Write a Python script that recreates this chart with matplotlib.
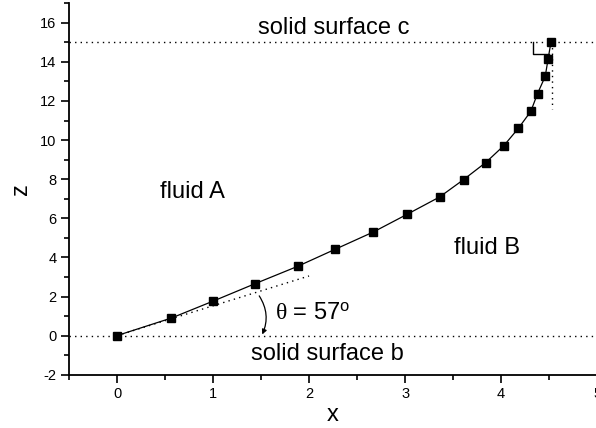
import matplotlib
matplotlib.use("Agg")
import matplotlib.pyplot as plt
from matplotlib.ticker import MultipleLocator
from matplotlib.patches import FancyArrowPatch

plt.rcParams['font.family'] = ['Liberation Sans', 'DejaVu Sans']
plt.rcParams['mathtext.fontset'] = 'custom'
plt.rcParams['mathtext.rm'] = 'Liberation Sans'
plt.rcParams['mathtext.it'] = 'Liberation Serif'
plt.rcParams['axes.unicode_minus'] = False

# measured interface points
x_pts = [0.0, 0.567, 1.004, 1.44, 1.88, 2.27, 2.67, 3.02, 3.36, 3.61,
         3.84, 4.03, 4.18, 4.31, 4.38, 4.46, 4.49, 4.52]
z_pts = [0.0, 0.90, 1.77, 2.66, 3.54, 4.41, 5.30, 6.20, 7.09, 7.98,
         8.85, 9.72, 10.60, 11.47, 12.38, 13.26, 14.15, 15.02]

# guide lines
surface_b = 0.0
surface_c = 15.0
tangent_x = [0.0, 2.0]
tangent_z = [0.0, 3.05]
wall_x = [4.53, 4.53]
wall_z = [15.0, 11.6]
corner_x = [4.33, 4.33, 4.50]
corner_z = [15.0, 14.42, 14.42]

fig = plt.figure(figsize=(5.96, 4.28), dpi=100)
ax = fig.add_axes([0.1158, 0.1245, 0.886, 0.868])

dot = dict(color='black', lw=1.0, linestyle=(0, (1, 3)))
ax.axhline(surface_b, **dot)
ax.axhline(surface_c, **dot)
ax.plot(tangent_x, tangent_z, **dot)
ax.plot(wall_x, wall_z, **dot)
ax.plot(corner_x, corner_z, color='black', lw=1.0)

ax.plot(x_pts, z_pts, color='black', lw=0.9, marker='s', markersize=5.5)

arrow = FancyArrowPatch((1.465, 2.15), (1.50, -0.07),
                        connectionstyle='arc3,rad=-0.3',
                        arrowstyle='-|>', mutation_scale=7,
                        color='black', lw=0.9)
ax.add_patch(arrow)

fs = 17
ax.text(1.465, 15.45, 'solid surface c', fontsize=fs)
ax.text(0.45, 7.06, 'fluid A', fontsize=fs)
ax.text(3.51, 4.19, 'fluid B', fontsize=fs)
ax.text(1.65, 0.87, r'$\theta$ = 57$^{\mathrm{o}}$', fontsize=fs)
ax.text(1.40, -1.23, 'solid surface b', fontsize=fs)

ax.set_xlim(-0.5, 5.0)
ax.set_ylim(-2, 17)
ax.xaxis.set_major_locator(MultipleLocator(1))
ax.xaxis.set_minor_locator(MultipleLocator(0.5))
ax.yaxis.set_major_locator(MultipleLocator(2))
ax.yaxis.set_minor_locator(MultipleLocator(1))
ax.tick_params(which='major', direction='out', length=6, width=1.2,
               labelsize=10.5, pad=3)
ax.tick_params(which='minor', direction='out', length=3.5, width=1.2)

ax.spines['top'].set_visible(False)
ax.spines['right'].set_visible(False)
ax.spines['left'].set_linewidth(1.3)
ax.spines['bottom'].set_linewidth(1.3)

ax.set_xlabel('x', fontsize=17, labelpad=2)
ax.set_ylabel('z', fontsize=17, labelpad=6)

fig.savefig('out.png', dpi=100)
